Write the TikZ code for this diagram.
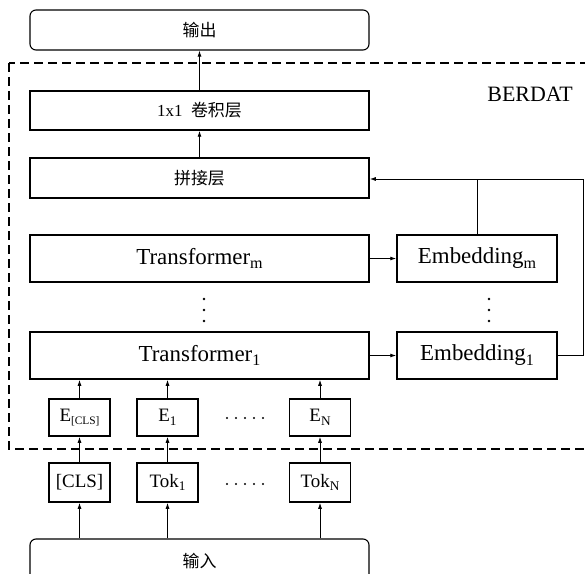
\documentclass[tikz,border=0pt]{standalone}
\usepackage{fontspec}
\setmainfont{Liberation Serif}
\newfontfamily\cjk{Noto Sans CJK SC}
\usetikzlibrary{arrows.meta}

% lowered small index after a label
\newcommand{\lowidx}[2][0.7]{\raisebox{-0.4ex}{\scalebox{#1}{#2}}}

\tikzset{
  box/.style={draw=black, line width=1.5bp, rectangle, inner sep=0pt, align=center},
  widebox/.style={box, minimum width=339bp},
  sidebox/.style={box, minimum width=160bp, minimum height=47bp},
  tokbox/.style={box, minimum width=61bp},
  endbox/.style={widebox, rounded corners=6bp, line width=1.1bp},
  bigtxt/.style={font=\fontsize{23}{26}\selectfont},
  smalltxt/.style={font=\fontsize{19}{22}\selectfont},
  cntxt/.style={font=\fontsize{17}{20}\selectfont\cjk},
  link/.style={draw=black, line width=0.9bp},
  arr/.style={link, -{Latex[length=6bp,width=4bp]}},
  frame/.style={draw=black, line width=1.1bp, dash pattern=on 9bp off 5bp},
  dotmark/.style={fill=black, draw=none},
}

\begin{document}
\begin{tikzpicture}[x=1bp, y=-1bp]
\useasboundingbox (0,0) rectangle (585,574);
\clip (0,0) rectangle (585,574);

% dashed frame of the BERDAT block
\draw[frame] (9,63) rectangle (592,449);
\node[font=\fontsize{22}{25}\selectfont] (title) at (530,94) {BERDAT};

% main column
\node[endbox, minimum height=40bp, cntxt] (out) at (199.5,30) {输出};
\node[widebox, minimum height=39bp] (conv) at (199.5,110.5)
  {\fontsize{17}{20}\selectfont 1x1\ \ {\cjk 卷积层}};
\node[widebox, minimum height=40bp, cntxt] (cat) at (199.5,178) {拼接层};
\node[widebox, minimum height=47bp, bigtxt] (trm) at (199.5,258.5) {Transformer\lowidx{m}};
\node[widebox, minimum height=47bp, bigtxt] (trone) at (199.5,355.5) {Transformer\lowidx{1}};

% embedding column
\node[sidebox, bigtxt] (embm) at (477,258.5) {Embedding\lowidx{m}};
\node[sidebox, bigtxt] (embone) at (477,355.5) {Embedding\lowidx{1}};

% token embeddings
\node[tokbox, minimum height=37bp, smalltxt] (ecls) at (79.5,417.5) {E\lowidx[0.6]{[CLS]}};
\node[tokbox, minimum height=37bp, smalltxt] (eone) at (167.5,417.5) {E\lowidx{1}};
\node[tokbox, minimum height=37bp, smalltxt] (en) at (320,417.5) {E\lowidx{N}};

% input tokens
\node[tokbox, minimum height=39bp, smalltxt] (tcls) at (79.5,482.5) {[CLS]};
\node[tokbox, minimum height=39bp, smalltxt] (tone) at (167.5,482.5) {Tok\lowidx{1}};
\node[tokbox, minimum height=39bp, smalltxt] (tn) at (320,482.5) {Tok\lowidx{N}};

% input box, running past the lower edge
\node[endbox, minimum height=45bp, cntxt] (in) at (199.5,561.5) {输入};

% ellipses
\foreach \y in {299,310,321} {
  \fill[dotmark] (204,\y) circle (1.4bp);
  \fill[dotmark] (489,\y) circle (1.4bp);
}
\foreach \x in {227,236,245,254,263} {
  \fill[dotmark] (\x,418) circle (1.2bp);
  \fill[dotmark] (\x,484) circle (1.2bp);
}

% upward flow
\draw[arr] (conv.north) -- (out.south);
\draw[arr] (cat.north) -- (conv.south);
\foreach \a/\b in {ecls/trone, eone/trone, en/trone} {
  \draw[arr] (\a.north) -- (\a.north |- \b.south);
}
\foreach \a/\b in {tcls/ecls, tone/eone, tn/en} {
  \draw[arr] (\a.north) -- (\b.south);
  \draw[arr] (\a.south |- in.north) -- (\a.south);
}

% transformer outputs to embeddings
\draw[arr] (trm.east) -- (embm.west);
\draw[arr] (trone.east) -- (embone.west);

% embeddings gathered into the concatenation layer
\coordinate (back) at (583,179);
\draw[arr] (embone.east) -| (back) -- (cat.east |- back);
\draw[link] (embm.north) -- (embm.north |- back);
\end{tikzpicture}
\end{document}
